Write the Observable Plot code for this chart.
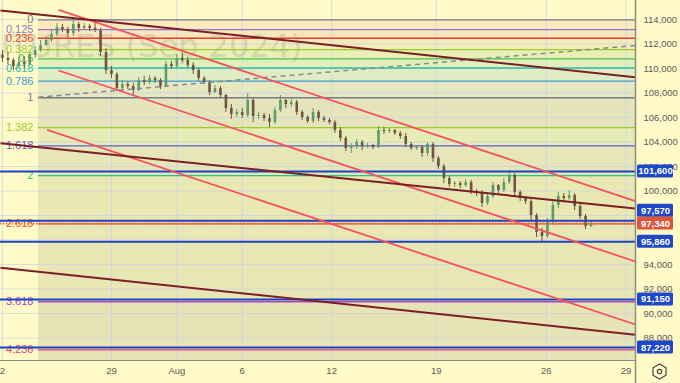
<!DOCTYPE html>
<html><head><meta charset="utf-8">
<script src="https://cdn.jsdelivr.net/npm/d3@7"></script>
<script src="https://cdn.jsdelivr.net/npm/@observablehq/plot@0.6"></script>
<style>
html,body{margin:0;padding:0;background:#fffac8;}
#chart{width:680px;height:383px;overflow:hidden;}
</style></head><body><div id="chart"></div>
<script>
// ---- data ----
const tickDays   = [0, 5, 8, 11, 15.1, 19.9, 24.95, 28.6];
const tickLabels = ["2", "29", "Aug", "6", "12", "19", "26", "29"];
const priceTicks = [88000, 90000, 92000, 94000, 96000, 98000, 100000, 102000, 104000, 106000, 108000, 110000, 112000, 114000];

const opens = [111060,110820,110650,110160,110490,110330,111060,111470,111880,112290,
  112780,113350,113180,112860,113590,113270,113430,113270,113100,111310,
  109840,109510,108370,108690,108530,108200,109020,108860,109180,109020,
  108530,110330,110160,110820,110650,110250,109840,109180,108860,108040,
  108370,107800,106740,106250,106410,106160,107390,106080,106160,105920,
  105590,106570,107390,107060,107230,106410,106000,105670,106410,105920,
  105760,105590,104940,104290,103470,103630,103960,103630,103710,103550,
  104940,104860,104940,104690,104450,103800,103470,103550,103060,103800,
  102650,102000,101020,100530,100610,100450,100690,99960,99800,98980,
  99550,100450,100040,100690,101270,99880,99390,99140,98000,96610,
  96290,97430,98820,99550,99390,99630,98740,97920,97100];
const highs = [111470,111310,110820,110900,110980,111310,111800,112290,112610,113100,
  113670,113590,113350,113920,113760,113670,113590,114000,113270,111630,
  110160,109670,109020,108940,108780,109270,109350,109430,109350,109180,
  110570,110570,111140,111220,110900,110490,110000,109350,109020,108610,
  108530,107880,107060,106650,106740,107960,107550,106410,106330,106250,
  106820,107800,107470,107470,107390,106570,106160,106740,106570,106080,
  105920,105760,105180,104450,103880,104200,104120,103880,103800,105270,
  105180,105100,105020,104860,104690,103960,103710,103710,103960,103960,
  102820,102160,101180,100780,100780,100940,100860,100120,100040,99880,
  100690,100530,101020,101670,101430,100040,99550,99310,98160,96940,
  97760,99220,99880,99800,100040,99800,98900,98080,97590];
const lows = [110490,110330,109840,110000,110000,110160,110820,111310,111800,112120,
  112610,112940,112530,112610,112940,113100,113020,112940,110980,109510,
  109180,108120,108200,108290,107800,108120,108610,108690,108780,108290,
  108450,109920,110000,110490,110000,109510,108940,108690,107800,107960,
  107630,106410,105840,106000,105920,106000,105590,105840,105670,105180,
  105430,106410,106740,106820,106160,105760,105510,105510,105670,105590,
  105430,104690,104040,103220,103060,103390,103310,103470,103390,103470,
  104610,104690,104530,104200,103550,103310,103310,102730,102820,102330,
  101760,100610,100290,100290,100200,100290,99710,99550,98650,98820,
  99390,99800,99880,100530,99550,99140,98900,97430,96200,95860,
  96120,97270,98570,99140,99220,98410,97670,96860,97020];
const closes = [110820,110650,110160,110490,110330,111060,111470,111880,112290,112780,
  113350,113180,112860,113590,113270,113430,113270,113100,111310,109840,
  109510,108370,108690,108530,108200,109020,108860,109180,109020,108530,
  110330,110160,110820,110650,110250,109840,109180,108860,108040,108370,
  107800,106740,106250,106410,106160,107390,106080,106160,105920,105590,
  106570,107390,107060,107230,106410,106000,105670,106410,105920,105760,
  105590,104940,104290,103470,103630,103960,103630,103710,103550,104940,
  104860,104940,104690,104450,103800,103470,103550,103060,103800,102650,
  102000,101020,100530,100610,100450,100690,99960,99800,98980,99550,
  100450,100040,100690,101270,99880,99390,99140,98000,96610,96290,
  97430,98820,99550,99390,99630,98740,97920,97100,97340];
const candleDays = closes.map((_, i) => i * 0.25);

const fibLevels = [0, 0.125, 0.236, 0.382, 0.5, 0.618, 0.786, 1, 1.382, 1.618, 2, 2.618, 3.618, 4.236];
const fibLabels = ["0", "0.125", "0.236", "0.382", "0.5", "0.618", "0.786", "1", "1.382", "1.618", "2", "2.618", "3.618", "4.236"];
const fibColors = ["#787b86", "#9575cd", "#e53935", "#9ccc2c", "#43c443", "#26bfa0", "#3d9ad6", "#787b86", "#9ccc2c", "#5c5fc8", "#2bbf8a", "#e8553d", "#ab47bc", "#e0407a"];
// fill of the band below each level (last one runs to the bottom)
const bandColors = ["#fbeabc", "#f8e6bc", "#f2edb8", "#e9efb6", "#e2efbc", "#e0edc4", "#e6e8c2", "#e6e4ba", "#e7ebb5", "#e6e6b8", "#e9e8b2", "#e8e6b4", "#e6e3b6", "#e6e3b6"];
const fibHigh = 113970, fibLow = 107610, fibStartDay = 1.65;

// trend lines [day1, price1, day2, price2]
const brownLines = [[-0.09, 114735, 29.04, 109290], [-0.09, 103902, 29.04, 98572], [-0.09, 93731, 29.04, 88262]];
const redLines = [[2.57, 114792, 29.04, 99168], [2.57, 109837, 29.04, 94246], [2.05, 104996, 29.04, 89103]];
const dashedLine = [[1.65, 107657, 29.04, 111878]];

const levelPrices = [101600, 97570, 95860, 91150, 87220];
const levelNudgePx = [0, -10, 0, 0, 0];
const lastPrice = 97340;
const watermark = "FUTURES (Sep 2024)";

// ---- layout ----
const W = 680, H = 383, mR = 45, mB = 23;
const xLeft = -0.09, xRight = 29.04, yTop = 115550, yBottom = 86165;
const ppx = (yTop - yBottom) / (H - mB);   // price per px
const dpx = (xRight - xLeft) / (W - mR);   // days per px

const candles = closes.map((c, i) => ({t: candleDays[i], o: opens[i], h: highs[i], l: lows[i], c}));
const fib = fibLevels.map((f, i) => ({f, p: fibHigh - f * (fibHigh - fibLow), color: fibColors[i], label: fibLabels[i]}));
const fibBands = fib.map((d, i) => ({p1: d.p, p2: i + 1 < fib.length ? fib[i + 1].p : yBottom, color: bandColors[i]}));
const toLine = a => ({x1: a[0], y1: a[1], x2: a[2], y2: a[3]});
const priceLabels = levelPrices.map((p, i) => ({p, y: p - levelNudgePx[i] * ppx, fill: "#1e48c8"}));
priceLabels.push({p: lastPrice, y: lastPrice, fill: "#dc553f"});

const up = "#5f9a6c", down = "#6e5443";
const fmt = d3.format(",");

const chart = Plot.plot({
  width: W, height: H, marginLeft: 0, marginRight: mR, marginTop: 0, marginBottom: mB,
  x: {domain: [xLeft, xRight], axis: null},
  y: {domain: [yBottom, yTop], axis: null},
  style: {background: "transparent", fontFamily: "'Liberation Sans', Arial, sans-serif", overflow: "visible"},
  marks: [
    // fib background bands
    Plot.rect(fibBands, {x1: fibStartDay, x2: xRight, y1: "p1", y2: "p2", fill: d => d.color}),
    // grid
    Plot.ruleX(tickDays, {y1: yBottom, y2: yTop, stroke: "#c8d2e6", strokeOpacity: 0.7, strokeWidth: 1}),
    Plot.ruleY(priceTicks, {x1: xLeft, x2: xRight, stroke: "#c8d2e6", strokeOpacity: 0.7, strokeWidth: 1}),
    // watermark
    Plot.text([watermark], {x: xLeft + 302 * dpx, y: yTop - 46 * ppx, text: d => d, textAnchor: "end",
      fontSize: 32, fontFamily: "'DejaVu Sans', sans-serif", fill: "#8c8c8c", fillOpacity: 0.26}),
    // fib level lines and labels
    Plot.ruleY(fib, {y: "p", x1: fibStartDay, x2: xRight, stroke: "color", strokeWidth: 1.3}),
    Plot.text(fib, {x: fibStartDay, y: "p", text: "label", fill: "color", textAnchor: "end", dx: -5, fontSize: 11}),
    // candles
    Plot.ruleX(candles, {x: "t", y1: "l", y2: "h", stroke: d => d.c >= d.o ? up : down, strokeWidth: 1}),
    Plot.ruleX(candles, {x: "t", y1: "o", y2: "c", stroke: d => d.c >= d.o ? up : down, strokeWidth: 2.6}),
    // horizontal levels
    Plot.ruleY(levelPrices, {x1: xLeft, x2: xRight, stroke: "#1c44c0", strokeWidth: 2}),
    Plot.ruleY([lastPrice], {x1: xLeft, x2: xRight, stroke: "#e0603f", strokeWidth: 2, strokeDasharray: "1.5,1.5", strokeOpacity: 0.85}),
    // trend lines
    Plot.link(dashedLine.map(toLine), {x1: "x1", y1: "y1", x2: "x2", y2: "y2", stroke: "#8a8a8a", strokeWidth: 1.5, strokeDasharray: "5,4", clip: true}),
    Plot.link(redLines.map(toLine), {x1: "x1", y1: "y1", x2: "x2", y2: "y2", stroke: "#f5525f", strokeWidth: 1.8, clip: true}),
    Plot.link(brownLines.map(toLine), {x1: "x1", y1: "y1", x2: "x2", y2: "y2", stroke: "#7a1f26", strokeWidth: 2, clip: true}),
    // axes
    Plot.ruleY([yBottom], {x1: xLeft, x2: xRight, stroke: "#8c8c80", strokeWidth: 1.2}),
    Plot.ruleX([xRight], {y1: yTop, y2: yBottom - mB * ppx, stroke: "#8c8c80", strokeWidth: 1.5}),
    Plot.text(priceTicks, {x: xRight, y: d => d, text: d => fmt(d), dx: 8, textAnchor: "start", fill: "#5a5a5a", fontSize: 9.5}),
    Plot.text(tickDays, {x: d => d, y: yBottom, text: (d, i) => tickLabels[i], dy: 10, fill: "#5a5a5a", fontSize: 9.5}),
    // price labels
    Plot.rect(priceLabels, {x1: xRight + 2 * dpx, x2: xRight + 38 * dpx, y1: d => d.y + 6.5 * ppx, y2: d => d.y - 6.5 * ppx, fill: "fill", rx: 1.5}),
    Plot.text(priceLabels, {x: xRight + 20 * dpx, y: "y", text: d => fmt(d.p), fill: "white", fontWeight: "bold", fontSize: 9.5}),
    // settings icon
    Plot.dot([0], {x: xRight + 24 * dpx, y: yBottom - 11 * ppx, symbol: "hexagon", r: 6.5, stroke: "#444", fill: "none", strokeWidth: 1.2}),
    Plot.dot([0], {x: xRight + 24 * dpx, y: yBottom - 11 * ppx, r: 2.2, stroke: "#444", fill: "none", strokeWidth: 1.2})
  ]
});
document.getElementById("chart").appendChild(chart);
</script>
</body></html>
